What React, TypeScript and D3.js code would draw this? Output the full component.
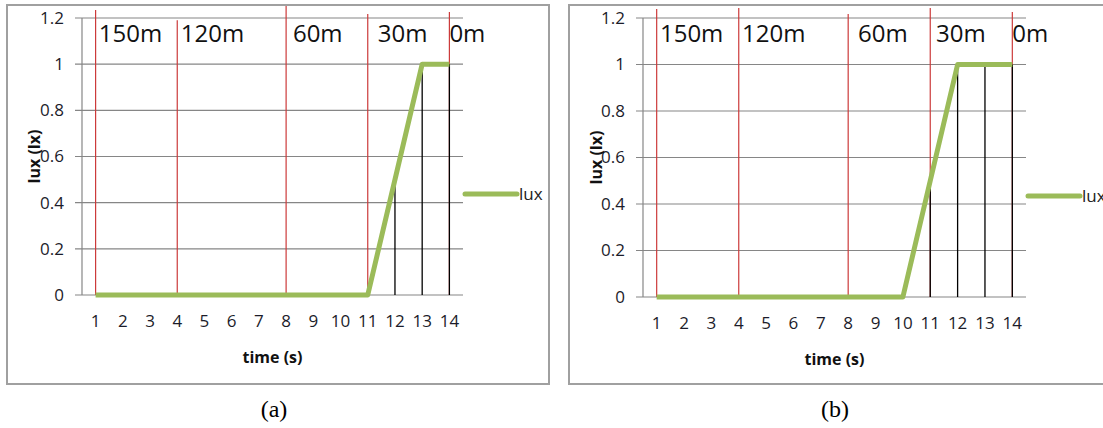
import React from "react";
import { scaleBand, scaleLinear, line } from "d3";

// time axis (categories) and lux readings for the two runs
const timeSteps = [1, 2, 3, 4, 5, 6, 7, 8, 9, 10, 11, 12, 13, 14];
const luxA = [0, 0, 0, 0, 0, 0, 0, 0, 0, 0, 0, 0.5, 1, 1];
const luxB = [0, 0, 0, 0, 0, 0, 0, 0, 0, 0, 0.5, 1, 1, 1];
const yTicks = [0, 0.2, 0.4, 0.6, 0.8, 1, 1.2];

// distance markers (red lines) drawn over the chart
const distanceLabels = ["150m", "120m", "60m", "30m", "0m"];
const distanceTimes = [1, 4, 8, 11, 14];
const markerTopsA = [1.235, 1.19, 1.252, 1.217, 1.226];
const markerTopsB = [1.239, 1.243, 1.217, 1.243, 1.226];
const labelPosA = [1.12, 4.13, 8.25, 11.37, 14.0];
const labelPosB = [1.12, 4.12, 8.36, 11.21, 14.0];

const FONT = "'Open Sans', Lato, sans-serif";
const GREEN = "#9bbb59";
const GRID = "#868686";
const RED = "#cc3a3a";

type PanelProps = {
  frameX: number;
  frameW: number;
  plotLeft: number;
  plotRight: number;
  yTop: number;
  yBottom: number;
  values: number[];
  markerTops: number[];
  labelPos: number[];
  legendY: number;
  caption: string;
  captionX: number;
};

const Panel = (p: PanelProps) => {
  const x = scaleBand<number>().domain(timeSteps).range([p.plotLeft, p.plotRight]);
  const cx = (t: number) => (x(t) as number) + x.bandwidth() / 2;
  const y = scaleLinear().domain([0, 1.2]).range([p.yBottom, p.yTop]);
  const xf = scaleLinear().domain([1, 14]).range([cx(1), cx(14)]);

  const path = line<number>()
    .x((_, i) => cx(timeSteps[i]))
    .y((d) => y(d))(p.values) as string;

  const midY = (p.yTop + p.yBottom) / 2;

  return (
    <g>
      <rect
        x={p.frameX}
        y={5}
        width={p.frameW}
        height={379}
        fill="#fff"
        stroke="#a0a0a0"
        strokeWidth={2}
      />
      {/* grid + y ticks */}
      {yTicks.map((t) => (
        <g key={t}>
          <line x1={p.plotLeft - 7} x2={p.plotRight} y1={y(t)} y2={y(t)} stroke={GRID} strokeWidth={1.2} />
          <text
            x={p.plotLeft - 18}
            y={y(t)}
            dy="0.35em"
            textAnchor="end"
            fontFamily={FONT}
            fontSize={17}
            fill="#1c1c2a"
          >
            {t}
          </text>
        </g>
      ))}
      <line x1={p.plotLeft} x2={p.plotLeft} y1={y(1.2)} y2={y(0)} stroke={GRID} strokeWidth={1.2} />
      {/* x tick labels */}
      {timeSteps.map((t) => (
        <text
          key={t}
          x={cx(t)}
          y={p.yBottom + 32}
          textAnchor="middle"
          fontFamily={FONT}
          fontSize={17}
          fill="#1c1c2a"
        >
          {t}
        </text>
      ))}
      {/* distance markers */}
      {distanceTimes.map((t, i) => (
        <line
          key={"m" + i}
          x1={cx(t)}
          x2={cx(t)}
          y1={y(p.markerTops[i])}
          y2={y(0)}
          stroke={RED}
          strokeWidth={1.2}
        />
      ))}
      {distanceLabels.map((d, i) => (
        <text
          key={d}
          x={xf(p.labelPos[i])}
          y={42}
          fontFamily={FONT}
          fontSize={24}
          fill="#111"
        >
          {d}
        </text>
      ))}
      {/* drop lines from non-zero readings */}
      {p.values.map((v, i) =>
        v > 0 ? (
          <line
            key={"d" + i}
            x1={cx(timeSteps[i])}
            x2={cx(timeSteps[i])}
            y1={y(v)}
            y2={y(0)}
            stroke="#000"
            strokeWidth={1.3}
          />
        ) : null
      )}
      <path d={path} fill="none" stroke={GREEN} strokeWidth={5} strokeLinejoin="round" />
      {/* legend */}
      <line
        x1={p.plotRight + 2}
        x2={p.plotRight + 54}
        y1={p.legendY}
        y2={p.legendY}
        stroke={GREEN}
        strokeWidth={5}
        strokeLinecap="round"
      />
      <text x={p.plotRight + 56} y={p.legendY} dy="0.35em" fontFamily={FONT} fontSize={17} fill="#222">
        lux
      </text>
      {/* axis titles */}
      <text
        x={(p.plotLeft + p.plotRight) / 2}
        y={p.yBottom + 68}
        textAnchor="middle"
        fontFamily={FONT}
        fontWeight="bold"
        fontSize={16}
        fill="#111"
      >
        time (s)
      </text>
      <text
        transform={`translate(${p.frameX + 27},${midY}) rotate(-90)`}
        textAnchor="middle"
        dy="0.35em"
        fontFamily={FONT}
        fontWeight="bold"
        fontSize={16}
        fill="#111"
      >
        lux (lx)
      </text>
      <text
        x={p.captionX}
        y={417}
        textAnchor="middle"
        fontFamily="'Liberation Serif', 'Times New Roman', serif"
        fontSize={24}
        fill="#000"
      >
        {p.caption}
      </text>
    </g>
  );
};

export default function App() {
  return (
    <svg
      width={1103}
      height={428}
      style={{ position: "absolute", left: 0, top: 0, background: "#fff" }}
    >
      <Panel
        frameX={7}
        frameW={542}
        plotLeft={82}
        plotRight={463}
        yTop={18}
        yBottom={295}
        values={luxA}
        markerTops={markerTopsA}
        labelPos={labelPosA}
        legendY={194}
        caption="(a)"
        captionX={274}
      />
      <Panel
        frameX={569}
        frameW={545}
        plotLeft={643}
        plotRight={1026}
        yTop={18}
        yBottom={297}
        values={luxB}
        markerTops={markerTopsB}
        labelPos={labelPosB}
        legendY={196}
        caption="(b)"
        captionX={835}
      />
    </svg>
  );
}
